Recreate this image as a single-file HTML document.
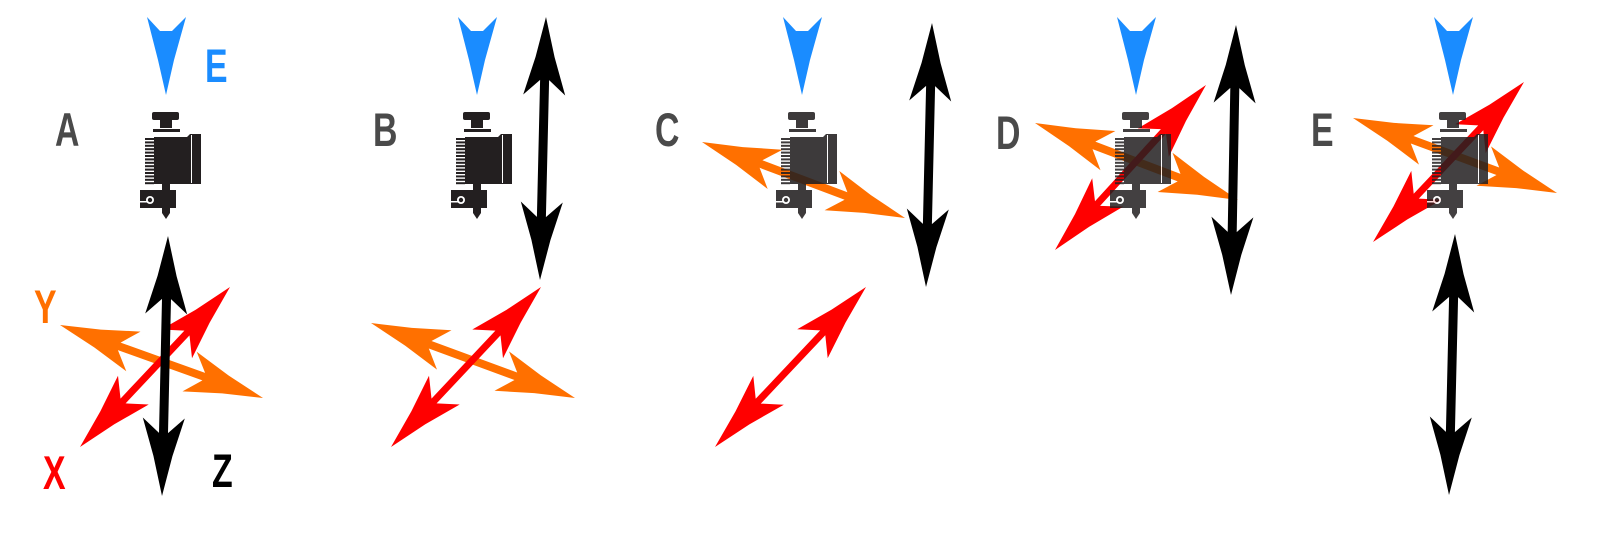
<!DOCTYPE html>
<html><head><meta charset="utf-8"><style>
html,body{margin:0;padding:0;background:#fff;width:1600px;height:542px;overflow:hidden}
svg{display:block}
text{font-family:"Liberation Sans",sans-serif;font-weight:bold;font-size:47px}
</style></head><body>
<svg id="s" width="1600" height="542" viewBox="0 0 1600 542" xmlns="http://www.w3.org/2000/svg">
<defs>
<g id="ex" fill="#231f20">
<rect x="17" y="4" width="27" height="8" rx="2"/>
<rect x="25" y="12" width="12" height="8"/>
<rect x="18" y="21" width="27" height="3"/>
<polygon points="19,29 52,29 55,26 66,26 66,76 19,76"/>
<rect x="56" y="27" width="1" height="48" fill="#fff"/>
<g id="fins"></g>
<rect x="27" y="76" width="8" height="6"/>
<rect x="5" y="82" width="36" height="18"/>
<rect x="5" y="93" width="8" height="1.5" fill="#fff"/>
<circle cx="15" cy="92" r="4" fill="#fff"/>
<circle cx="15" cy="92" r="2.2" fill="#231f20"/>
<rect x="27" y="100" width="8" height="5"/>
<polygon points="27,105 35,105 31,111"/>
</g>
</defs>
<g id="arrows"></g>
<g id="labels">
<text x="55" y="146" fill="#4a4a4a" transform="translate(55 0) scale(0.72 1) translate(-55 0)">A</text>
<text x="373" y="146" fill="#4a4a4a" transform="translate(373 0) scale(0.72 1) translate(-373 0)">B</text>
<text x="655" y="146" fill="#4a4a4a" transform="translate(655 0) scale(0.72 1) translate(-655 0)">C</text>
<text x="996" y="149" fill="#4a4a4a" transform="translate(996 0) scale(0.72 1) translate(-996 0)">D</text>
<text x="1311" y="146" fill="#4a4a4a" transform="translate(1311 0) scale(0.72 1) translate(-1311 0)">E</text>
<text x="205" y="82" fill="#1a8cff" transform="translate(205 0) scale(0.72 1) translate(-205 0)">E</text>
<text x="34" y="323" fill="#ff7000" transform="translate(34 0) scale(0.72 1) translate(-34 0)">Y</text>
<text x="43" y="489" fill="#ff0000" transform="translate(43 0) scale(0.72 1) translate(-43 0)">X</text>
<text x="212" y="487" fill="#000" transform="translate(212 0) scale(0.72 1) translate(-212 0)">Z</text>
</g>
</svg>
<script>
var NS="http://www.w3.org/2000/svg";
var fins=document.getElementById('fins');
for(var i=0;i<14;i++){var r=document.createElementNS(NS,'rect');r.setAttribute('x',10);r.setAttribute('y',30+i*3.4);r.setAttribute('width',9);r.setAttribute('height',2);fins.appendChild(r);}
var A=document.getElementById('arrows');
function dbl(x1,y1,x2,y2,col,w){
 var dx=x2-x1,dy=y2-y1,L=Math.hypot(dx,dy),ux=dx/L,uy=dy/L,px=-uy,py=ux;
 var H=78,B=21,N=63,h=w/2;
 var pts=[[0,0],[40,-9.5],[H,-B],[N,-h],[L-N,-h],[L-H,-B],[L-40,-9.5],[L,0],[L-40,9.5],[L-H,B],[L-N,h],[N,h],[H,B],[40,9.5]];
 var s=pts.map(function(p){return (x1+ux*p[0]+px*p[1]).toFixed(1)+','+(y1+uy*p[0]+py*p[1]).toFixed(1)}).join(' ');
 var e=document.createElementNS(NS,'polygon');e.setAttribute('points',s);e.setAttribute('fill',col);A.appendChild(e);
}
function blue(tx){
 var e=document.createElementNS(NS,'polygon');
 e.setAttribute('points',(tx-19)+',17 '+(tx-6)+',31 '+(tx+6)+',31 '+(tx+20)+',17 '+(tx+8)+',60 '+tx+',95 '+(tx-8)+',60');
 e.setAttribute('fill','#1a8cff');A.appendChild(e);
}
function ex(ox,op){var u=document.createElementNS(NS,'use');u.setAttribute('href','#ex');u.setAttribute('x',ox);u.setAttribute('y',108);if(op)u.setAttribute('opacity',op);A.appendChild(u);}
var O='#ff7000',R='#ff0000',K='#000';
// A
blue(166);ex(135);
dbl(60,325,263,398,O,8);
dbl(230,287,80,447,R,7);
dbl(168,236,162,496,K,9);
// B
blue(477);ex(446);
dbl(546,17,540,280,K,9);
dbl(371,323,575,398,O,8);
dbl(541,287,391,447,R,7);
// C
blue(802);
dbl(702,142,905,218,O,8);
ex(771,0.88);
dbl(932,23,926,287,K,9);
dbl(866,287,715,447,R,7);
// D
blue(1136);
dbl(1035,123,1238,200,O,8);
dbl(1206,85,1055,250,R,7);
ex(1105,0.85);
dbl(1236,25,1231,295,K,9);
// E
blue(1453);
dbl(1353,118,1557,193,O,8);
dbl(1524,82,1373,242,R,7);
ex(1422,0.85);
dbl(1455,234,1449,495,K,9);
</script>
</body></html>
